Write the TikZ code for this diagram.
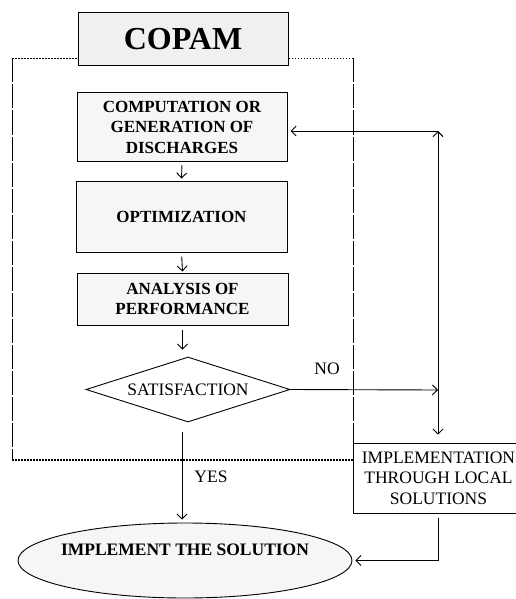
\documentclass[tikz,border=0pt]{standalone}
\usepackage{fontspec}
\setmainfont{Liberation Serif}
\usetikzlibrary{shapes.geometric,arrows.meta}
\begin{document}
\begin{tikzpicture}[x=1pt,y=-1pt,
  fs/.style={font=\fontsize{17.5}{20.5}\selectfont, inner sep=0pt},
  fb/.style={font=\fontsize{17.5}{20.5}\selectfont\bfseries, inner sep=0pt},
  graybox/.style={draw, line width=1pt, fill=gray!7, font=\fontsize{17}{20.5}\selectfont\bfseries, align=center, inner sep=0pt},
  arr/.style={line width=0.9pt, -{Straight Barb[length=5pt,width=10pt]}},
  dotline/.style={line width=1.5pt, dash pattern=on 1.5pt off 1.5pt},
  sideline/.style={line width=1pt, dash pattern=on 24pt off 2pt}
]
\useasboundingbox (0,0) rectangle (515,599);

% nodes
\node[graybox, fill=gray!12, minimum width=210pt, minimum height=53pt, font=\fontsize{32}{36}\selectfont\bfseries] (copam) at (183,39.5) {COPAM};
\node[graybox, minimum width=210pt, minimum height=68pt] (comp) at (182,127) {COMPUTATION OR\\GENERATION OF\\DISCHARGES};
\node[graybox, minimum width=211pt, minimum height=71pt] (opt) at (181.5,216.5) {OPTIMIZATION};
\node[graybox, minimum width=211pt, minimum height=52pt] (ana) at (182.5,299) {ANALYSIS OF\\PERFORMANCE};
\node[diamond, draw, line width=0.9pt, aspect=3.14, minimum width=204pt, minimum height=65pt, inner sep=0pt, fs] (sat) at (188,389.5) {SATISFACTION};
\node[draw, line width=0.9pt, minimum width=171pt, minimum height=70pt, align=center, fs] (impl) at (438.5,478) {IMPLEMENTATION\\THROUGH LOCAL\\SOLUTIONS};
\node[ellipse, draw, fill=gray!7, line width=0.9pt, minimum width=334pt, minimum height=75pt] (sol) at (185,560.5) {};
\node[fb] (soltxt) at (185,550) {IMPLEMENT THE SOLUTION};
\node[fs] (no) at (327,369) {NO};
\node[fs] (yes) at (211,477) {YES};

% container
\coordinate (tl) at (12,58.5);
\coordinate (tr) at (353,58.5);
\coordinate (bl) at (12,460);
\coordinate (br) at (353,460);
\draw[dotline] (tl) -- (tl -| copam.west);
\draw[dotline] (copam.east |- tr) -- (tr);
\draw[dotline] (bl) -- (br);
\draw[sideline] (tl) -- (bl);
\draw[sideline] (tr) -- (tr |- impl.north);

% connectors
\coordinate (j) at (438,390);
\coordinate (c) at (438,131);
\coordinate (ys) at (182,432);
\draw[arr, shorten <=4pt, shorten >=2pt] (comp.south) -- (opt.north);
\draw[arr, shorten <=4pt, shorten >=1pt] (opt.south) -- (ana.north);
\draw[arr, shorten <=4pt, shorten >=7pt] (ana.south) -- (ana.south |- sat.north);
\draw[arr, shorten >=3pt] (ys) -- (ys |- sol.north);
\draw[arr] (sat.east) -- (j);
\draw[arr] (j) -- (c);
\draw[arr, shorten >=3pt] (c) -- (c -| comp.east);
\draw[arr, shorten >=8pt] (j) -- (j |- impl.north);
\draw[arr, shorten <=5pt, shorten >=3pt] (impl.south) |- (sol.east);
\end{tikzpicture}
\end{document}
